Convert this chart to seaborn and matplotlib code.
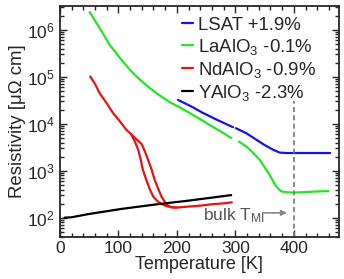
import numpy as np
import pandas as pd
import matplotlib
matplotlib.use("Agg")
import matplotlib.pyplot as plt
from matplotlib.ticker import MultipleLocator, LogLocator
import seaborn as sns

# resistivity in micro-ohm cm, temperature in K
lsat_T1 = [202, 225, 245, 270, 296]
lsat_r1 = [32400, 23400, 17000, 12000, 8500]
lsat_T2 = [301, 320, 336, 350, 365, 376, 388, 410, 440, 462]
lsat_r2 = [8100, 6200, 4600, 3550, 2800, 2450, 2400, 2400, 2400, 2400]

lao_T1 = [51, 60, 68, 77, 85, 94, 103, 120, 137, 154, 171, 188, 205, 222, 240, 256, 275, 293]
lao_r1 = [2.4e6, 1.58e6, 1.1e6, 7.1e5, 4.8e5, 3.5e5, 2.5e5, 1.4e5, 8.7e4, 5.75e4,
          4.0e4, 2.9e4, 2.25e4, 1.7e4, 1.26e4, 9.5e3, 6.9e3, 5.0e3]
lao_T2 = [306, 319, 330, 342, 350, 359, 365, 370, 375, 379, 390, 400, 420, 440, 459]
lao_r2 = [4200, 3300, 2450, 1700, 1200, 810, 590, 470, 400, 365, 350, 345, 355, 365, 372]

ndo_T_low = [52, 56, 60, 68, 80, 91, 103, 114, 122]
ndo_r_low = [1.02e5, 8.5e4, 7.1e4, 4.5e4, 2.75e4, 1.7e4, 1.12e4, 7.4e3, 6.0e3]
ndo_T_cool = [128, 134, 138, 142, 148, 154, 160, 165, 170, 175, 182, 190]
ndo_r_cool = [4270, 2820, 1780, 1050, 630, 400, 280, 240, 210, 195, 178, 170]
ndo_T_warm = [131, 140, 146, 151, 157, 162, 168, 174, 180, 185, 192]
ndo_r_warm = [4700, 3700, 2500, 1700, 1050, 650, 420, 280, 215, 182, 166]
ndo_T_high = [200, 220, 240, 260, 280, 294]
ndo_r_high = [166, 174, 182, 195, 204, 214]

yao_T = [8, 20, 48, 105, 162, 219, 293]
yao_r = [101, 103, 120, 155, 192, 232, 305]

labels = ["LSAT +1.9%", "LaAlO$_3$ -0.1%", "NdAlO$_3$ -0.9%", "YAlO$_3$ -2.3%"]
colors = ["#1414e6", "#22e622", "#e61414", "#000000"]

rows = []
def add(sample, branch, T, r):
    for t, v in zip(T, r):
        rows.append({"sample": sample, "branch": branch, "T": t, "rho": v})

add(labels[0], "a", lsat_T1, lsat_r1)
add(labels[0], "b", lsat_T2, lsat_r2)
add(labels[1], "c", lao_T1, lao_r1)
add(labels[1], "d", lao_T2, lao_r2)
add(labels[2], "e", ndo_T_low + ndo_T_cool + ndo_T_high, ndo_r_low + ndo_r_cool + ndo_r_high)
add(labels[2], "f", ndo_T_low[-1:] + ndo_T_warm + ndo_T_high[:1], ndo_r_low[-1:] + ndo_r_warm + ndo_r_high[:1])
add(labels[3], "g", yao_T, yao_r)
df = pd.DataFrame(rows)

sns.set_style("ticks")
plt.rcParams["font.family"] = ["Liberation Sans", "DejaVu Sans"]
plt.rcParams["mathtext.fontset"] = "custom"
plt.rcParams["mathtext.rm"] = "Liberation Sans"
plt.rcParams["mathtext.it"] = "Liberation Sans:italic"
plt.rcParams["mathtext.default"] = "regular"

fig = plt.figure(figsize=(3.44, 2.79), dpi=100)
ax = fig.add_axes([0.174, 0.152, 0.811, 0.826])

sns.lineplot(data=df, x="T", y="rho", hue="sample", units="branch", estimator=None,
             sort=False, hue_order=labels, palette=colors, linewidth=1.6, ax=ax)

ax.set_yscale("log")
ax.set_xlim(0, 477)
ax.set_ylim(40, 3.2e6)

ax.axvline(400, ymax=0.59, color="#777777", linestyle=(0, (3, 2)), linewidth=1.2)

ax.text(245, 87, "bulk T$_{MI}$", color="#555555", fontsize=12.5, ha="left", va="baseline")
ax.annotate("", xy=(393, 128), xytext=(342, 128),
            arrowprops=dict(arrowstyle="-|>", color="#888888", lw=1.2, mutation_scale=8))

ax.xaxis.set_major_locator(MultipleLocator(100))
ax.xaxis.set_minor_locator(MultipleLocator(20))
ax.yaxis.set_major_locator(LogLocator(base=10, numticks=10))
ax.yaxis.set_minor_locator(LogLocator(base=10, subs=np.arange(2, 10), numticks=10))
ax.tick_params(which="both", direction="in", top=True, right=True, labelsize=12.5, width=1)
ax.tick_params(which="major", length=5)
ax.tick_params(which="minor", length=3)
for s in ax.spines.values():
    s.set_linewidth(1.3)

ax.set_xlabel("Temperature [K]", fontsize=13, labelpad=0)
ax.set_ylabel("Resistivity [μΩ cm]", fontsize=13.4, labelpad=1)

leg = ax.legend(loc="upper right", bbox_to_anchor=(0.965, 1.01), frameon=False, fontsize=13.4,
                handlelength=0.55, handletextpad=0.3, labelspacing=0.16, borderaxespad=0.3)
for line in leg.get_lines():
    line.set_linewidth(1.6)

fig.savefig("out.png", dpi=100)
